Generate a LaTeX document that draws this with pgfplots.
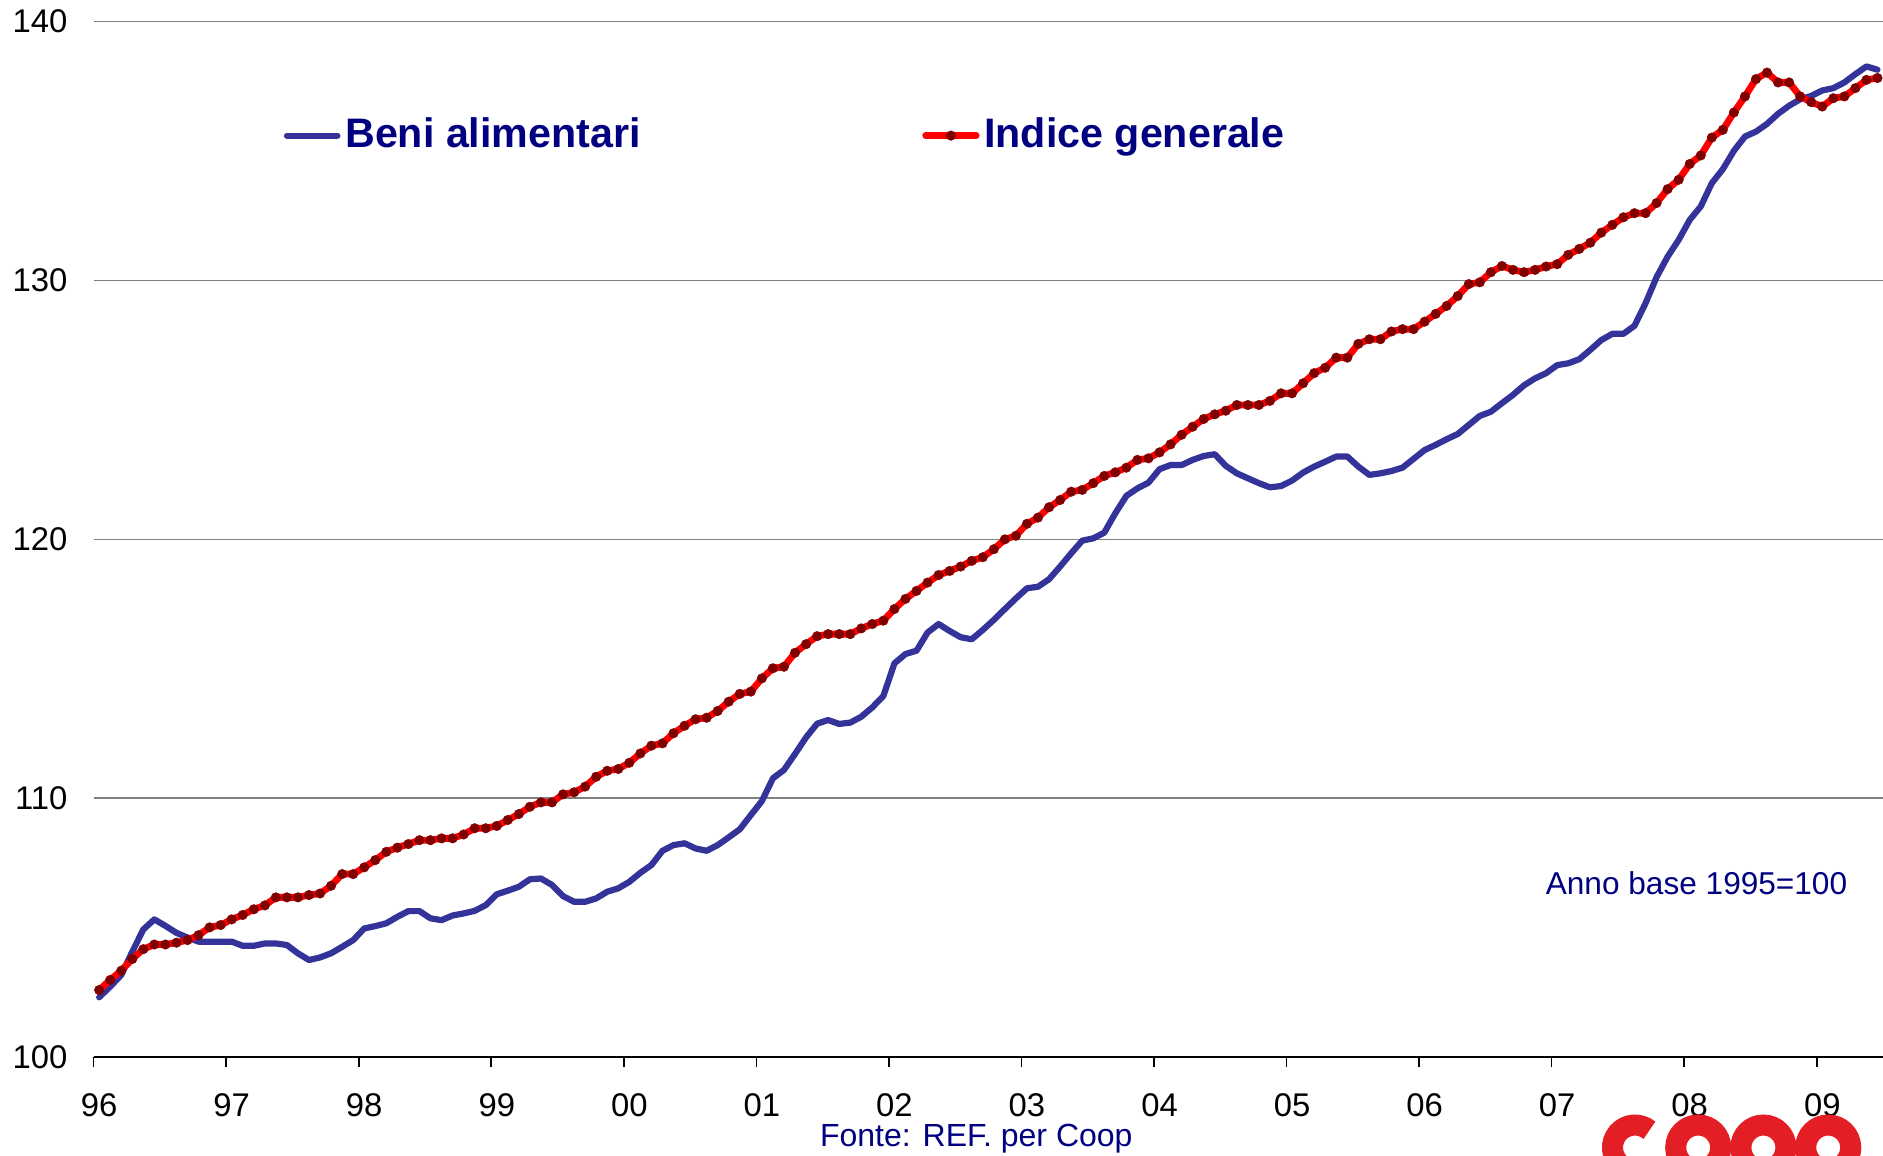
\documentclass[border=0pt]{standalone}
\usepackage{pgfplots}
\pgfplotsset{compat=1.18}
\usepackage{pgfplotstable}
\usepackage{fontspec}
\setmainfont{Liberation Sans}
\definecolor{navy}{HTML}{000080}
\definecolor{beni}{HTML}{333399}
\definecolor{markred}{HTML}{800000}
\definecolor{cooprd}{HTML}{E31E24}

\pgfplotstableread{
i beni indice
0 102.31 102.59
1 102.72 102.98
2 103.17 103.34
3 104.07 103.79
4 104.93 104.17
5 105.32 104.35
6 105.07 104.35
7 104.80 104.42
8 104.62 104.52
9 104.46 104.71
10 104.46 105.01
11 104.46 105.10
12 104.46 105.32
13 104.30 105.49
14 104.30 105.71
15 104.39 105.86
16 104.39 106.17
17 104.33 106.17
18 104.01 106.17
19 103.75 106.26
20 103.85 106.32
21 104.01 106.62
22 104.26 107.07
23 104.52 107.07
24 104.97 107.33
25 105.06 107.61
26 105.17 107.93
27 105.42 108.09
28 105.64 108.23
29 105.64 108.38
30 105.36 108.38
31 105.29 108.45
32 105.47 108.45
33 105.55 108.60
34 105.65 108.84
35 105.87 108.84
36 106.29 108.93
37 106.43 109.16
38 106.58 109.39
39 106.87 109.67
40 106.90 109.84
41 106.65 109.84
42 106.22 110.15
43 106.00 110.23
44 106.00 110.45
45 106.13 110.83
46 106.39 111.06
47 106.52 111.13
48 106.77 111.37
49 107.12 111.73
50 107.42 112.03
51 107.97 112.12
52 108.19 112.51
53 108.26 112.80
54 108.06 113.05
55 107.97 113.11
56 108.19 113.37
57 108.49 113.73
58 108.80 114.03
59 109.35 114.12
60 109.89 114.63
61 110.77 115.02
62 111.09 115.08
63 111.71 115.62
64 112.35 115.95
65 112.88 116.26
66 113.02 116.34
67 112.87 116.34
68 112.92 116.34
69 113.15 116.56
70 113.51 116.73
71 113.95 116.86
72 115.21 117.31
73 115.57 117.70
74 115.70 118.01
75 116.40 118.33
76 116.73 118.62
77 116.46 118.78
78 116.22 118.95
79 116.14 119.17
80 116.50 119.31
81 116.89 119.62
82 117.31 120.00
83 117.72 120.14
84 118.11 120.60
85 118.17 120.84
86 118.46 121.24
87 118.95 121.52
88 119.46 121.84
89 119.95 121.91
90 120.04 122.17
91 120.26 122.45
92 121.01 122.59
93 121.68 122.77
94 121.97 123.07
95 122.19 123.13
96 122.71 123.36
97 122.87 123.67
98 122.87 124.04
99 123.07 124.35
100 123.22 124.65
101 123.29 124.83
102 122.84 124.97
103 122.55 125.19
104 122.36 125.19
105 122.17 125.19
106 122.01 125.35
107 122.06 125.64
108 122.27 125.64
109 122.58 126.03
110 122.81 126.42
111 123.00 126.63
112 123.20 127.02
113 123.20 127.02
114 122.81 127.55
115 122.49 127.73
116 122.55 127.73
117 122.64 128.03
118 122.77 128.12
119 123.11 128.12
120 123.45 128.41
121 123.65 128.71
122 123.87 129.02
123 124.07 129.40
124 124.42 129.86
125 124.77 129.93
126 124.93 130.32
127 125.26 130.56
128 125.58 130.41
129 125.95 130.32
130 126.22 130.41
131 126.42 130.54
132 126.73 130.63
133 126.80 130.99
134 126.96 131.22
135 127.32 131.46
136 127.70 131.85
137 127.94 132.15
138 127.94 132.44
139 128.25 132.60
140 129.12 132.60
141 130.13 132.99
142 130.92 133.53
143 131.57 133.89
144 132.34 134.50
145 132.86 134.83
146 133.76 135.52
147 134.30 135.82
148 135.01 136.49
149 135.56 137.11
150 135.75 137.78
151 136.05 138.03
152 136.44 137.65
153 136.75 137.65
154 137.00 137.11
155 137.13 136.89
156 137.34 136.72
157 137.43 137.04
158 137.65 137.11
159 137.97 137.43
160 138.27 137.75
161 138.14 137.82
}\data

\begin{document}
\begin{tikzpicture}
\begin{axis}[
  scale only axis, width=447.3pt, height=258.85pt,
  xmin=-0.5, xmax=161.5, ymin=100, ymax=140,
  axis x line*=bottom, axis y line*=left,
  x axis line style={-, draw=black, line width=0.5pt},
  y axis line style={draw=none},
  ytick={100,110,120,130,140},
  ymajorgrids, grid style={draw=gray, line width=0.4pt},
  xtick={0,12,...,156},
  xticklabels={96,97,98,99,00,01,02,03,04,05,06,07,08,09},
  minor xtick={-0.5,11.5,...,155.5},
  tick align=outside,
  major tick length=0pt, minor tick length=2.5pt,
  minor tick style={draw=black, line width=0.4pt},
  /pgf/number format/assume math mode=true,
  ticklabel style={font=\fontsize{8.2}{9.6}\selectfont, text=black},
  yticklabel style={xshift=-3.0pt},
  xticklabel style={yshift=-5.6pt},
  legend columns=2,
  legend style={at={(0.1059,0.8899)}, anchor=west, draw=none, fill=none,
    inner sep=0pt, font=\bfseries\fontsize{10.3}{12}\selectfont, text=navy,
    nodes={inner sep=1.2pt},
    /tikz/every even column/.append style={column sep=69.2pt}},
  legend cell align=left,
  legend image code/.code={\draw[mark repeat=2,mark phase=2,#1] plot coordinates {(0pt,0pt) (6.3pt,0pt) (12.6pt,0pt)};},
]
\addplot[draw=beni, line width=1.55pt, line join=round, line cap=round] table[x=i, y=beni] {\data};
\addlegendentry{Beni alimentari}
\addplot[draw=red, line width=1.7pt, line join=round, line cap=round,
  mark=*, mark size=1.2pt,
  mark options={solid, draw=markred, fill=markred, line width=0.1pt}] table[x=i, y=indice] {\data};
\addlegendentry{Indice generale}
\coordinate (SW) at (rel axis cs:0,0);
\coordinate (NE) at (rel axis cs:1,1);
\coordinate (SE) at (rel axis cs:1,0);
\end{axis}
\node[anchor=east, text=navy, font=\fontsize{7.9}{9.6}\selectfont, inner sep=0pt] at ([xshift=-8.75pt, yshift=43.5pt]SE) {Anno base 1995=100};
\path (SW) -- (SE) coordinate[pos=0.4933] (FC);
\node[anchor=base, text=navy, font=\fontsize{8}{9.6}\selectfont, inner sep=0pt] at ([yshift=-22.4pt]FC) {Fonte: REF. per Coop};
% logo (decoration)
\draw[cooprd, line width=5.25pt] ([xshift=-62pt, yshift=-22.6pt]SE) ++(50:5.625pt) arc[start angle=50, end angle=310, radius=5.625pt];
\draw[cooprd, line width=5.25pt] ([xshift=-46.2pt, yshift=-22.6pt]SE) circle[radius=5.625pt];
\draw[cooprd, line width=5.25pt] ([xshift=-29.9pt, yshift=-22.6pt]SE) circle[radius=5.625pt];
\draw[cooprd, line width=5.25pt] ([xshift=-13.7pt, yshift=-22.6pt]SE) circle[radius=5.625pt];
\pgfresetboundingbox
\path ([xshift=-23.4pt, yshift=-24.5pt]SW) rectangle ([yshift=5.4pt]NE);
\end{tikzpicture}
\end{document}
